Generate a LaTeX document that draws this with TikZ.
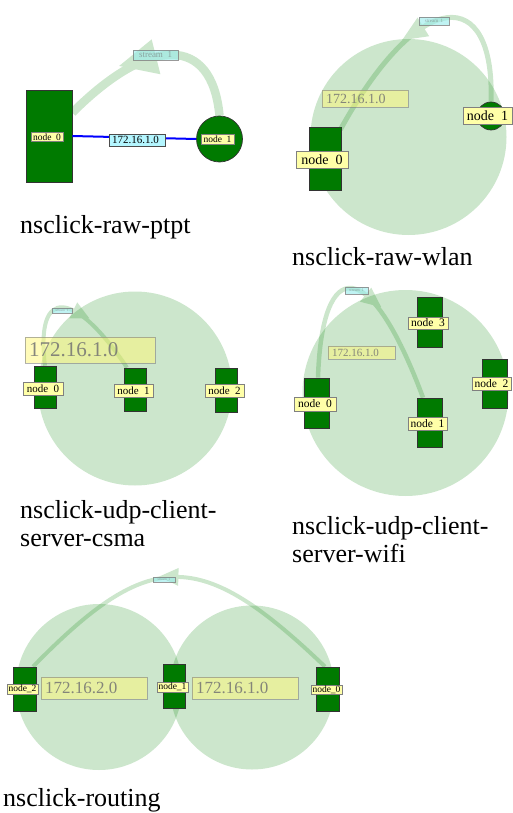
\documentclass[tikz,border=0pt]{standalone}
\usepackage{fontspec}
\setmainfont{Liberation Serif}
\usetikzlibrary{decorations.markings}
\definecolor{ngreen}{RGB}{0,122,0}
\definecolor{rgreen}{RGB}{0,128,0}
\definecolor{lyellow}{RGB}{255,255,168}
\definecolor{lcyan}{RGB}{180,246,255}
\definecolor{scyan}{RGB}{150,235,235}
\tikzset{
  range/.style={circle, fill=rgreen, fill opacity=0.2, inner sep=0pt, minimum size=#1},
  nodebox/.style={draw=black!80, fill=ngreen, line width=0.7pt, inner sep=0pt},
  nodelbl/.style={draw=gray, fill=lyellow, line width=0.6pt, inner sep=0pt, text=black},
  netlbl/.style={draw=gray, fill=yellow!55, fill opacity=0.5, draw opacity=0.6,
    text=black!55, text opacity=0.85, inner ysep=0pt, inner xsep=4pt, align=left},
  streamlbl/.style={draw=gray, fill=scyan, fill opacity=0.6, draw opacity=0.8,
    text=black!55, inner sep=0pt, line width=0.5pt},
  caption/.style={anchor=base west, inner sep=0pt, font=\fontsize{26}{28}\selectfont},
  flow/.style n args={3}{draw=rgreen, line width=#1pt, postaction={decorate},
    decoration={markings, mark=at position 0.5 with
      {\fill[rgreen] (0pt,-#2pt) -- (#3pt,0pt) -- (0pt,#2pt) -- cycle;}}},
}
\begin{document}
\begin{tikzpicture}[x=1pt, y=-1pt]
\useasboundingbox (0,0) rectangle (512,813);

% ---------------- Panel 1: nsclick-raw-ptpt ----------------
\node[nodebox, rectangle, minimum width=46pt, minimum height=92pt] (p1n0) at (49,136) {};
\node[nodebox, circle, minimum size=46pt] (p1n1) at (219.5,139) {};
\draw[blue, line width=2pt] (p1n0.east) -- (p1n1.west);
\begin{scope}[transparency group, opacity=0.2]
  \draw[flow={8.5}{18}{38}] (p1n1.north) .. controls (212,35) and (150,35) .. ([yshift=-23pt]p1n0.north east);
\end{scope}
\node[draw=black!70, fill=lcyan, line width=0.6pt, inner ysep=0pt, inner xsep=3pt,
  text width=50pt, align=left, minimum height=12pt, font=\fontsize{11}{11}\selectfont]
  (p1net) at (137,140) {172.16.1.0};
\node[nodelbl, minimum width=32pt, minimum height=9pt, font=\fontsize{9.5}{9.5}\selectfont] (p1n0l) at (47,137) {node\ \ 0};
\node[nodelbl, minimum width=33pt, minimum height=10pt, font=\fontsize{9.5}{9.5}\selectfont] (p1n1l) at (217.5,139) {node\ \ 1};
\node[streamlbl, minimum width=45pt, minimum height=10pt, font=\fontsize{9}{9}\selectfont] (p1s) at (155.5,55) {stream\ \ 1};
\node[caption] (c1) at (20,233) {nsclick-raw-ptpt};

% ---------------- Panel 2: nsclick-raw-wlan ----------------
\node[range=196pt] (p2r) at (408.5,137) {};
\node[nodebox, rectangle, minimum width=32pt, minimum height=63pt] (p2n0) at (325,158.5) {};
\node[nodebox, circle, minimum size=28pt] (p2n1) at (491,116) {};
\begin{scope}[transparency group, opacity=0.2]
  \draw[flow={5}{11}{25}] (p2n1.north) .. controls (495,-15) and (420,-15) .. ([xshift=-1pt,yshift=-3pt]p2n0.north east);
\end{scope}
\node[netlbl, text width=78pt, minimum height=17pt, font=\fontsize{14}{14}\selectfont] (p2net) at (365,98.5) {172.16.1.0};
\node[nodelbl, minimum width=52pt, minimum height=17pt, font=\fontsize{14}{14}\selectfont] (p2n0l) at (322,159.5) {node\ \ 0};
\node[nodelbl, minimum width=49pt, minimum height=17pt, font=\fontsize{14}{14}\selectfont] (p2n1l) at (487.5,115.5) {node\ \ 1};
\node[streamlbl, minimum width=30pt, minimum height=8pt, font=\fontsize{5}{5}\selectfont] (p2s) at (434,21) {stream\ \ 1};
\node[caption] (c2) at (292,265) {nsclick-raw-wlan};

% ---------------- Panel 3: nsclick-udp-client-server-csma ----------------
\node[range=194pt] (p3r) at (135,388.5) {};
\node[nodebox, rectangle, minimum width=22pt, minimum height=42pt] (p3n0) at (45,387) {};
\node[nodebox, rectangle, minimum width=22pt, minimum height=43pt] (p3n1) at (135,389.5) {};
\node[nodebox, rectangle, minimum width=22pt, minimum height=44pt] (p3n2) at (226,390) {};
\begin{scope}[transparency group, opacity=0.2]
  \draw[flow={4}{9}{18}] (p3n0.north) .. controls (35,285) and (75,290) .. ([xshift=-8pt]p3n1.north);
\end{scope}
\node[netlbl, text width=122pt, minimum height=26pt, font=\fontsize{21}{21}\selectfont] (p3net) at (90,350) {172.16.1.0};
\node[nodelbl, minimum width=40pt, minimum height=13pt, font=\fontsize{11}{11}\selectfont] (p3n0l) at (43,388.5) {node\ \ 0};
\node[nodelbl, minimum width=39pt, minimum height=13pt, font=\fontsize{11}{11}\selectfont] (p3n1l) at (133.5,390.5) {node\ \ 1};
\node[nodelbl, minimum width=39pt, minimum height=13pt, font=\fontsize{11}{11}\selectfont] (p3n2l) at (224.5,390.5) {node\ \ 2};
\node[streamlbl, minimum width=20pt, minimum height=5pt, font=\fontsize{3.5}{3.5}\selectfont] (p3s) at (62,310.5) {stream\ \ 1};
\node[caption] (c3a) at (20,518.5) {nsclick-udp-client-};
\node[caption] (c3b) at (20,546) {server-csma};

% ---------------- Panel 4: nsclick-udp-client-server-wifi ----------------
\node[range=206pt] (p4r) at (405.5,393) {};
\node[nodebox, rectangle, minimum width=25pt, minimum height=50pt] (p4n3) at (429.5,322) {};
\node[nodebox, rectangle, minimum width=25pt, minimum height=49pt] (p4n2) at (494.5,383.5) {};
\node[nodebox, rectangle, minimum width=25pt, minimum height=50pt] (p4n0) at (316.5,403) {};
\node[nodebox, rectangle, minimum width=25pt, minimum height=49pt] (p4n1) at (429.5,422.5) {};
\begin{scope}[transparency group, opacity=0.2]
  \draw[flow={4.5}{9}{20}] ([xshift=1.5pt]p4n0.north) .. controls (322,255) and (370,255) .. ([xshift=-6.5pt]p4n1.north);
\end{scope}
\node[netlbl, text width=59pt, minimum height=13pt, font=\fontsize{11}{11}\selectfont] (p4net) at (361.5,352.5) {172.16.1.0};
\node[nodelbl, minimum width=40pt, minimum height=12pt, font=\fontsize{11.5}{11.5}\selectfont] (p4n3l) at (428,323) {node\ \ 3};
\node[nodelbl, minimum width=39pt, minimum height=13pt, font=\fontsize{11.5}{11.5}\selectfont] (p4n2l) at (491.5,383.5) {node\ \ 2};
\node[nodelbl, minimum width=42pt, minimum height=14pt, font=\fontsize{11.5}{11.5}\selectfont] (p4n0l) at (315,404) {node\ \ 0};
\node[nodelbl, minimum width=39pt, minimum height=13pt, font=\fontsize{11.5}{11.5}\selectfont] (p4n1l) at (427.5,423.5) {node\ \ 1};
\node[streamlbl, minimum width=23pt, minimum height=7pt, font=\fontsize{4}{4}\selectfont] (p4s) at (356.5,290.5) {stream\ \ 1};
\node[caption] (c4a) at (292,534) {nsclick-udp-client-};
\node[caption] (c4b) at (292,562) {server-wifi};

% ---------------- Panel 5: nsclick-routing ----------------
\node[range=166pt] (p5r2) at (99,687) {};
\node[range=164pt] (p5r1) at (252,687.5) {};
\node[nodebox, rectangle, minimum width=23pt, minimum height=44pt] (p5n2) at (24.5,689) {};
\node[nodebox, rectangle, minimum width=22pt, minimum height=44pt] (p5n1) at (174,686) {};
\node[nodebox, rectangle, minimum width=23pt, minimum height=44pt] (p5n0) at (327.5,689) {};
\begin{scope}[transparency group, opacity=0.2]
  \draw[flow={4}{9}{19}] ([xshift=-2.5pt]p5n0.north) .. controls (200,547) and (150,547) .. ([xshift=8.5pt]p5n2.north);
\end{scope}
\node[netlbl, text width=98pt, minimum height=22pt, font=\fontsize{17}{17}\selectfont] (p5net2) at (94,688) {172.16.2.0};
\node[netlbl, text width=98pt, minimum height=22pt, font=\fontsize{17}{17}\selectfont] (p5net1) at (245,688) {172.16.1.0};
\node[nodelbl, minimum width=31pt, minimum height=10pt, font=\fontsize{9.5}{9.5}\selectfont] (p5n2l) at (22.5,689) {node\_2};
\node[nodelbl, minimum width=31pt, minimum height=10pt, font=\fontsize{9.5}{9.5}\selectfont] (p5n1l) at (172.5,687) {node\_1};
\node[nodelbl, minimum width=31pt, minimum height=9pt, font=\fontsize{9.5}{9.5}\selectfont] (p5n0l) at (326.5,689.5) {node\_0};
\node[streamlbl, minimum width=22pt, minimum height=5pt, font=\fontsize{3.5}{3.5}\selectfont] (p5s) at (164,579.5) {stream\_1};
\node[caption] (c5) at (3,806) {nsclick-routing};
\end{tikzpicture}
\end{document}
